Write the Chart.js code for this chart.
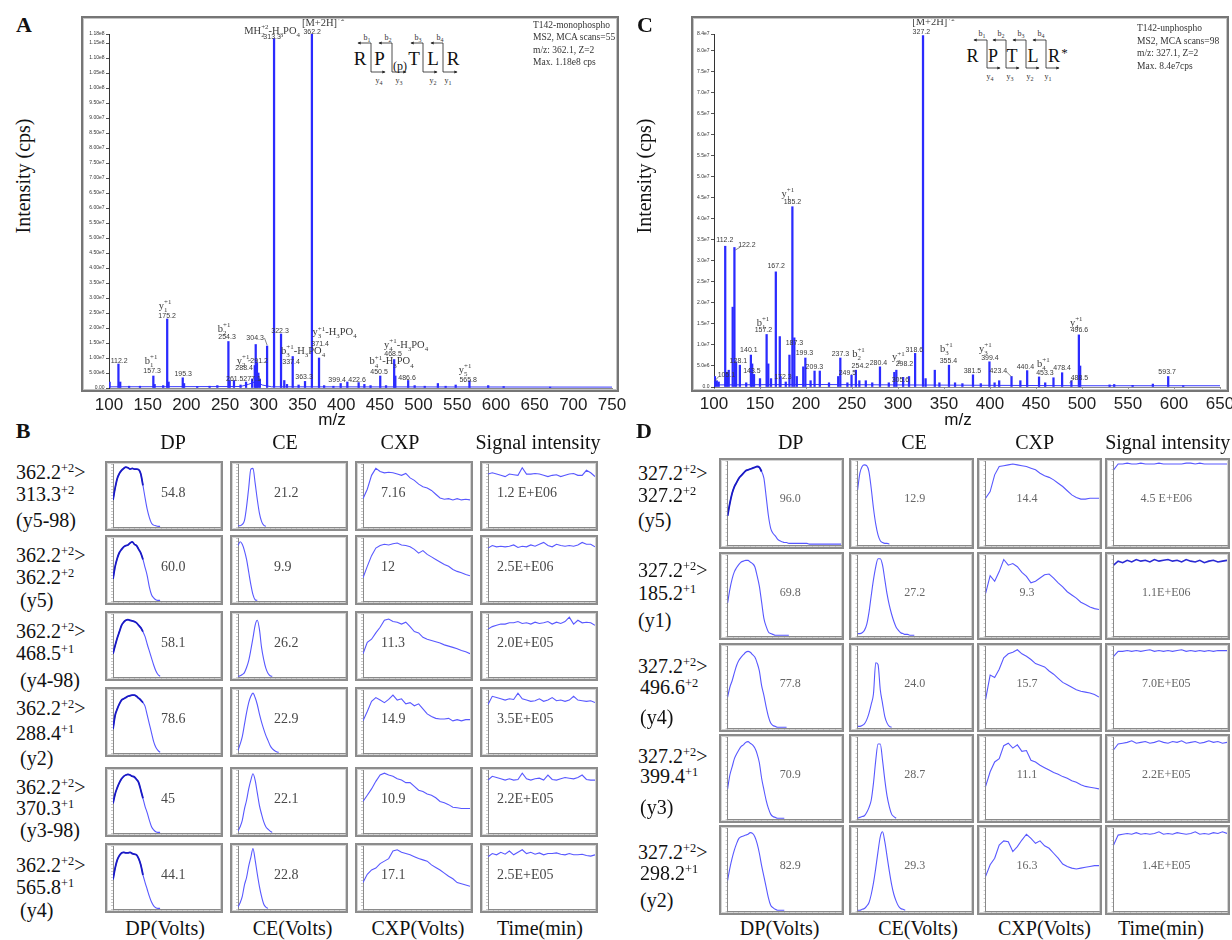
<!DOCTYPE html>
<html><head><meta charset="utf-8">
<script src="https://cdn.jsdelivr.net/npm/chart.js@4.4.1/dist/chart.umd.min.js"></script>
<style>
body{margin:0;width:1232px;height:940px;position:relative;background:#fff;overflow:hidden;font-family:"Liberation Serif","Times New Roman",serif;color:#111}
.abs{position:absolute}
.frame{position:absolute;box-sizing:border-box;border:2px solid #767676;box-shadow:inset 0 0 0 1px #c4c4c4;pointer-events:none}
.box{position:absolute;box-sizing:border-box;border:2px solid #8c8c8c;box-shadow:inset 0 0 0 1px #d4d4d4;background:#fff}
.box canvas{position:absolute;left:0;top:0}
.t{position:absolute;white-space:nowrap;line-height:1}
sup{font-size:62%;vertical-align:0.6em;line-height:0}
</style></head><body>
<svg class="abs" style="left:0;top:0" width="1232" height="100">
<defs><marker id="ah" viewBox="0 0 6 6" refX="5" refY="3" markerWidth="4" markerHeight="4" orient="auto-start-reverse"><path d="M0,0 L6,3 L0,6 z" fill="#222"/></marker></defs>
<g font-family="Liberation Serif" fill="#111" text-anchor="middle">
<text x="360" y="64.5" font-size="19">R</text><text x="379.5" y="64.5" font-size="19">P</text>
<text x="400" y="70" font-size="12">(p)</text>
<text x="414" y="64.5" font-size="19">T</text><text x="433" y="64.5" font-size="19">L</text><text x="453" y="64.5" font-size="19">R</text>
<text x="972.5" y="61.5" font-size="18">R</text><text x="993" y="61.5" font-size="18">P</text><text x="1012" y="61.5" font-size="18">T</text><text x="1033" y="61.5" font-size="18">L</text><text x="1054" y="61.5" font-size="18">R</text><text x="1064.5" y="57" font-size="13">*</text>
</g>
<g stroke="#222" stroke-width="0.8" fill="none">
<path d="M358,43 L371,43 L371,72 L385,72" marker-start="url(#ah)" marker-end="url(#ah)"/>
<path d="M379,43 L392,43 L392,72 L406,72" marker-start="url(#ah)" marker-end="url(#ah)"/>
<path d="M411,43 L423,43 L423,72 L437,72" marker-start="url(#ah)" marker-end="url(#ah)"/>
<path d="M431,43 L443,43 L443,72 L457,72" marker-start="url(#ah)" marker-end="url(#ah)"/>
<path d="M974,40 L987,40 L987,68 L1000,68" marker-start="url(#ah)" marker-end="url(#ah)"/>
<path d="M993,40 L1006,40 L1006,68 L1019,68" marker-start="url(#ah)" marker-end="url(#ah)"/>
<path d="M1013,40 L1026,40 L1026,68 L1039,68" marker-start="url(#ah)" marker-end="url(#ah)"/>
<path d="M1033,40 L1046,40 L1046,68 L1059,68" marker-start="url(#ah)" marker-end="url(#ah)"/>
</g>
<g font-family="Liberation Serif" fill="#333" font-size="8" text-anchor="middle">
<text x="367" y="40">b<tspan font-size="6" dy="2">1</tspan></text>
<text x="388" y="40">b<tspan font-size="6" dy="2">2</tspan></text>
<text x="418" y="40">b<tspan font-size="6" dy="2">3</tspan></text>
<text x="440" y="40">b<tspan font-size="6" dy="2">4</tspan></text>
<text x="379" y="83">y<tspan font-size="6" dy="2">4</tspan></text>
<text x="399" y="83">y<tspan font-size="6" dy="2">3</tspan></text>
<text x="433" y="83">y<tspan font-size="6" dy="2">2</tspan></text>
<text x="448" y="83">y<tspan font-size="6" dy="2">1</tspan></text>
<text x="982" y="36">b<tspan font-size="6" dy="2">1</tspan></text>
<text x="1001" y="36">b<tspan font-size="6" dy="2">2</tspan></text>
<text x="1021" y="36">b<tspan font-size="6" dy="2">3</tspan></text>
<text x="1041" y="36">b<tspan font-size="6" dy="2">4</tspan></text>
<text x="990" y="79">y<tspan font-size="6" dy="2">4</tspan></text>
<text x="1010" y="79">y<tspan font-size="6" dy="2">3</tspan></text>
<text x="1030" y="79">y<tspan font-size="6" dy="2">2</tspan></text>
<text x="1048" y="79">y<tspan font-size="6" dy="2">1</tspan></text>
</g>
</svg>
<script>
// ================= DATA =================
// Spectrum A: [m/z, intensity (x1e6 cps)]
const peaksA = [[100.8,2.0],[112.2,8.0],[114.5,2.0],[126,0.6],[140,0.6],[157.3,4.0],[159,1.2],[170,0.8],[175.2,23.0],[177,2.0],[195.3,3.4],[197,1.5],[214,0.5],[230,0.6],[240,0.8],[254.3,15.5],[256,2.5],[261.5,2.5],[270,1.0],[277.1,2.0],[285,3.0],[288.4,7.5],[289.6,14.5],[291.2,8.5],[293,5.0],[295,3.0],[304.3,14.0],[313.3,116.5],[322.3,18.0],[326.5,2.5],[330,1.2],[337.4,10.5],[345,1.0],[353.3,2.2],[362.2,118],[371.4,10.0],[378,0.8],[390,0.6],[399.4,1.5],[408,2.0],[422.6,1.8],[430,1.2],[438,0.8],[450.5,4.0],[458,0.8],[468.5,9.5],[470,4.0],[486.6,2.5],[495,0.8],[508,0.6],[525,1.5],[535,0.6],[548,1.0],[565.8,2.4],[590,0.8],[610,0.5],[670,0.3]];
const baseA = [[100,0.4],[270,0.5],[280,1.2],[290,2.2],[298,1.0],[310,0.4],[750,0.3]];
// Spectrum C
const peaksC = [[101,2.5],[103,1.5],[105.1,1.2],[112.2,33.5],[114,3.5],[116,4.0],[120.3,19],[122.2,33.2],[124,6],[128.1,5.2],[135,1.0],[140.1,7.6],[141.5,5.5],[143.5,3.0],[150,2.0],[157.2,12.5],[159,5.5],[162,2],[167.2,27.4],[171.5,12],[172.3,2.5],[178,1.2],[182,7.6],[185.2,42.9],[187.3,11.7],[190,2.5],[197,4.8],[199.3,6.9],[205,1.5],[209.3,3.8],[215,3.8],[225,1.0],[235,2.5],[237.3,6.9],[245,1.0],[249.5,2.8],[254.2,4.0],[258,1.5],[265,1.5],[272,1.0],[280.4,4.8],[290,1.0],[296,3.5],[298.2,4.0],[305.6,2.3],[312,2.5],[318.6,8.0],[327.2,83.6],[330,2],[340,4.0],[345,1.0],[355.4,5.2],[362,1.0],[370,0.8],[381.5,2.9],[390,0.8],[399.4,6.0],[405,1.0],[410,1.5],[423.4,2.5],[433,1.5],[440.4,3.9],[453.3,2.4],[460,1.0],[469,2.2],[478.4,3.4],[488.5,1.5],[496.6,12.4],[498,5],[530,0.5],[535,0.6],[555,0.4],[577,0.7],[593.7,2.5],[610,0.3]];
const baseC = [[100,0.5],[200,0.6],[300,0.5],[400,0.4],[500,0.3],[650,0.3]];
const xTicksA = [100,150,200,250,300,350,400,450,500,550,600,650,700,750];
const xTicksC = [100,150,200,250,300,350,400,450,500,550,600,650];
const yTicksA = [0,5,10,15,20,25,30,35,40,45,50,55,60,65,70,75,80,85,90,95,100,105,110,115,118];
const yLabelsA = ["0.00","5.00e6","1.00e7","1.50e7","2.00e7","2.50e7","3.00e7","3.50e7","4.00e7","4.50e7","5.00e7","5.50e7","6.00e7","6.50e7","7.00e7","7.50e7","8.00e7","8.50e7","9.00e7","9.50e7","1.00e8","1.05e8","1.10e8","1.15e8","1.18e8"];
const yTicksC = [0,5,10,15,20,25,30,35,40,45,50,55,60,65,70,75,80,84];
const yLabelsC = ["0.0","5.0e6","1.0e7","1.5e7","2.0e7","2.5e7","3.0e7","3.5e7","4.0e7","4.5e7","5.0e7","5.5e7","6.0e7","6.5e7","7.0e7","7.5e7","8.0e7","8.4e7"];
// peak annotations: [m/z, intensity, text, kind]
const annA = [[310.8,119.3,'MH_{2}^{+2}-H_{3}PO_{4}','i'],[310.8,117,'313.3','v'],[376.7,122,'[M+2H]^{+2}','i'],[362.5,118.7,'362.2','v'],[113.1,9.3,'112.2','v'],[154.5,9.3,'b_{1}^{+1}','i'],[155.7,5.7,'157.3','v'],[172.5,27.7,'y_{1}^{+1}','i'],[175.1,24.3,'175.2','v'],[195.8,4.7,'195.3','v'],[248.8,20,'b_{2}^{+1}','i'],[252.6,17,'254.3','v'],[262.5,3.3,'261.5','v'],[284.9,3.0,'277.1','v'],[273.3,9.3,'y_{2}^{+1}','i'],[274.6,6.7,'288.4','v'],[294.0,9.3,'291.2','v'],[288.8,16.7,'304.3','v'],[321.0,19.3,'322.3','v'],[350.8,12.7,'b_{3}^{+1}-H_{3}PO_{4}','i'],[335.3,8.8,'337.4','v'],[352.1,3.8,'363.3','v'],[391.5,18.8,'y_{3}^{+1}-H_{3}PO_{4}','i'],[372.8,14.7,'371.4','v'],[394.8,2.7,'399.4','v'],[420.6,2.7,'422.6','v'],[465.2,9.1,'b_{4}^{+1}-H_{3}PO_{4}','i'],[449.0,5.4,'450.5','v'],[483.9,14.7,'y_{4}^{+1}-H_{3}PO_{4}','i'],[467.1,11.6,'468.5','v'],[485.2,3.6,'486.6','v'],[560.2,6.3,'y_{5}^{+1}','i'],[564.1,2.7,'565.8','v']];
const leadA = [[300.9,16.7,304.3,14.3],[279.5,9.0,283.5,9.3]];
const annC = [[338.5,86.9,'[M+2H]^{+2}','i'],[325.4,84.5,'327.2','v'],[111.8,35,'112.2','v'],[135.8,33.8,'122.2','v'],[126.5,6.4,'128.1','v'],[113.5,2.9,'105.1','v'],[137.9,8.8,'140.1','v'],[141.2,4.0,'143.5','v'],[153.2,15.5,'b_{1}^{+1}','i'],[153.7,13.7,'157.2','v'],[167.6,28.8,'167.2','v'],[174.9,2.6,'172.3','v'],[180.3,46.2,'y_{1}^{+1}','i'],[185.2,44.1,'185.2','v'],[187.4,10.5,'187.3','v'],[198.3,8.1,'199.3','v'],[209.1,4.8,'209.3','v'],[237.4,8.0,'237.3','v'],[245.0,3.4,'249.5','v'],[257.0,8.1,'b_{2}^{+1}','i'],[259.1,5.2,'254.2','v'],[278.7,5.8,'280.4','v'],[300.4,7.2,'y_{2}^{+1}','i'],[307.0,5.5,'298.2','v'],[302.6,1.8,'305.6','v'],[317.8,8.8,'318.6','v'],[352.6,9.2,'b_{3}^{+1}','i'],[354.8,6.4,'355.4','v'],[380.9,3.9,'381.5','v'],[395.0,9.2,'y_{3}^{+1}','i'],[399.9,7.1,'399.4','v'],[409.1,3.9,'423.4','v'],[438.5,4.8,'440.4','v'],[458.0,5.6,'b_{4}^{+1}','i'],[459.7,3.4,'453.3','v'],[478.4,4.7,'478.4','v'],[497.2,2.3,'488.5','v'],[493.7,15.5,'y_{4}^{+1}','i'],[497.2,13.6,'496.6','v'],[592.5,3.6,'593.7','v']];
const leadC = [[128.6,33.3,123.2,32.6],[104.8,2.4,100.6,1.4],[418,3.6,423.5,2.4],[490.8,1.9,486.4,1.0]];
const infoA = ["T142-monophospho","MS2, MCA scans=55","m/z: 362.1, Z=2","Max. 1.18e8 cps"];
const infoC = ["T142-unphospho","MS2, MCA scans=98","m/z: 327.1, Z=2","Max. 8.4e7cps"];

// Panel B (precursor 362.2, +2)
const bPrecursor = "362.2";
const bProducts = ["313.3","362.2","468.5","288.4","370.3","565.8"];
const bCharges = ["+2","+2","+1","+1","+1","+1"];
const bIons = ["(y5-98)","(y5)","(y4-98)","(y2)","(y3-98)","(y4)"];
const bDPopt = ["54.8","60.0","58.1","78.6","45","44.1"];
const bCEopt = ["21.2","9.9","26.2","22.9","22.1","22.8"];
const bCXPopt = ["7.16","12","11.3","14.9","10.9","17.1"];
const bSignal = ["1.2 E+E06","2.5E+E06","2.0E+E05","3.5E+E05","2.2E+E05","2.5E+E05"];
// curves (% of panel height); DP, CE sampled every 2% of width; CXP, signal every 4%
const bDP = [
 [43,62,77,85,90,93,95,94,92,93,92,92,91,84,66,46,28,15,6,3,2,1,1],
 [35,55,68,77,82,86,88,89,92,94,90,88,82,76,66,53,40,22,10,5,2,1,1],
 [37,50,62,72,82,87,90,91,90,89,88,86,82,78,72,64,52,41,30,19,10,4,1],
 [38,60,70,78,84,86,88,90,91,92,92,90,87,84,80,74,60,46,32,18,9,4,1],
 [47,62,72,80,86,90,92,93,92,90,89,85,80,68,55,42,32,20,10,5,2,1,1],
 [47,65,78,85,89,90,89,89,90,88,87,86,80,70,54,42,31,20,11,5,2,1,1]];
const bCE = [
 [2,2,4,10,32,62,92,93,70,44,22,9,3,1],
 [88,94,90,80,66,46,26,10,2,1],
 [1,2,4,7,15,26,43,62,82,90,76,47,28,14,6,2,1],
 [4,14,26,45,64,80,90,95,88,77,62,49,38,28,20,12,7,4,2,1],
 [3,10,20,38,52,70,84,94,84,64,44,30,18,10,6,3,1],
 [3,10,20,38,50,68,82,96,78,56,36,20,8,3,1]];
const bCXP = [
 [45,60,82,93,88,86,87,86,84,82,85,78,74,68,64,62,58,52,46,44,45,43,45,43,44,43],
 [37,55,72,84,88,90,89,91,92,89,88,86,82,76,80,74,70,66,62,58,55,50,47,45,42,40],
 [37,55,60,70,79,90,92,88,87,84,87,80,72,70,63,60,58,56,54,51,49,47,45,42,40,37],
 [51,66,82,88,84,80,85,92,84,86,78,80,75,78,70,62,58,55,54,54,55,51,53,51,53,53],
 [50,60,70,82,92,95,92,90,86,84,80,80,74,68,66,62,60,56,50,48,45,41,40,39,39,39],
 [42,55,62,65,72,76,80,92,94,90,88,86,83,80,78,76,70,66,62,57,52,48,42,40,38,36]];
const bSIG = [
 [84,86,84,82,80,84,83,82,94,84,84,85,84,82,80,82,83,80,82,84,85,82,82,90,86,80],
 [84,88,86,87,86,87,89,85,87,86,89,87,90,93,88,86,90,88,87,88,87,89,93,90,90,86],
 [76,80,82,84,84,86,86,88,85,86,84,87,85,86,88,84,87,85,88,95,84,90,86,87,86,82],
 [77,90,88,86,84,86,85,95,86,84,82,83,86,82,84,88,83,84,82,84,90,84,83,82,83,80],
 [84,90,88,86,84,86,84,85,95,86,84,86,87,84,92,85,84,86,88,87,86,88,92,85,84,84],
 [83,88,86,90,87,92,86,90,94,88,90,87,89,86,88,88,89,87,86,88,86,86,87,85,84,86]];

// Panel D (precursor 327.2, +2)
const dPrecursor = "327.2";
const dProducts = ["327.2","185.2","496.6","399.4","298.2"];
const dCharges = ["+2","+1","+2","+1","+1"];
const dIons = ["(y5)","(y1)","(y4)","(y3)","(y2)"];
const dDPopt = ["96.0","69.8","77.8","70.9","82.9"];
const dCEopt = ["12.9","27.2","24.0","28.7","29.3"];
const dCXPopt = ["14.4","9.3","15.7","11.1","16.3"];
const dSignal = ["4.5 E+E06","1.1E+E06","7.0E+E05","2.2E+E05","1.4E+E05"];
const dDP = [
 [35,50,62,70,75,80,83,86,89,90,91,92,93,94,93,88,80,58,35,20,14,11,7,5,4,3,3,2,2,2,2,2,2,2,2,2,1,1,1,1,1,1,1,1,1,1,1,1,1,1,1],
 [41,58,71,80,85,89,92,93,94,94,92,90,86,75,62,42,22,12,5,3,2,1,1,1,1,1,1,1],
 [38,50,58,68,77,83,87,90,93,94,93,90,87,80,70,52,40,26,14,6,3,2,1,1,1,1,1],
 [37,54,64,74,80,85,89,91,94,95,93,91,87,80,69,50,36,23,13,6,3,2,1,1,1,1],
 [37,52,64,74,82,88,90,91,92,93,95,94,90,82,70,55,42,29,16,7,4,2,1,1,1,1]];
const dCE = [
 [66,86,94,96,95,88,68,44,25,12,5,3,2,2,1],
 [3,3,4,7,14,29,50,70,86,96,96,88,70,52,38,27,18,11,7,4,3,2,2,1,1,1],
 [2,2,3,5,10,18,29,42,80,78,47,30,14,6,2,1],
 [1,2,3,4,8,14,23,44,72,92,92,72,48,28,15,6,3,1],
 [1,1,2,3,6,10,20,34,52,72,90,96,84,66,48,32,20,12,6,3,2,1]];
const dCXP = [
 [56,64,84,94,95,96,97,96,95,94,92,90,86,83,81,78,74,70,65,60,57,55,55,56,56,56],
 [53,75,68,80,95,88,90,86,79,74,66,68,72,76,77,72,66,61,55,51,47,42,39,36,34,33],
 [35,65,62,72,86,91,93,96,91,88,84,79,77,75,70,66,61,56,53,50,47,45,44,43,41,38],
 [40,58,70,74,90,93,87,91,83,84,72,70,66,63,60,57,55,52,50,47,45,42,40,39,38,37],
 [42,56,64,80,85,84,72,78,86,93,88,82,85,79,76,70,64,57,54,52,51,52,53,54,55,55]];
const dSIG = [
 [90,97,97,98,97,97,98,97,97,97,98,97,97,97,97,97,98,98,97,98,97,97,97,97,97,97],
 [88,93,91,94,92,95,93,94,92,95,93,94,95,93,94,92,95,93,92,94,91,93,94,92,93,94],
 [88,94,94,95,94,95,94,95,96,94,95,94,95,94,95,96,94,95,94,95,94,95,94,95,95,95],
 [85,92,93,94,96,93,94,95,93,94,96,94,93,95,94,96,93,94,95,93,94,96,94,95,93,94],
 [80,92,93,94,93,95,93,94,93,94,96,93,94,93,95,94,93,94,96,93,94,93,95,94,96,94]];
const colHeads = ["DP","CE","CXP","Signal intensity"];
const colFoots = ["DP(Volts)","CE(Volts)","CXP(Volts)","Time(min)"];

// ================= HELPERS =================
Chart.defaults.font.family = '"Liberation Sans", Arial, sans-serif';
function txt(x, y, html, css, center){
  const d = document.createElement('div'); d.className='t'; d.innerHTML = html;
  d.style.left = x+'px'; d.style.top = y+'px';
  d.style.transform = center ? 'translate(-50%,-50%)' : 'translate(0,-50%)';
  if (css) d.style.cssText += css;
  document.body.appendChild(d); return d;
}
function richParts(s){
  const out=[]; s.split(/(_\{[^}]*\}|\^\{[^}]*\})/).forEach(p=>{ if(!p) return;
    if(p.startsWith('_{')) out.push({t:p.slice(2,-1),m:'sub'});
    else if(p.startsWith('^{')) out.push({t:p.slice(2,-1),m:'sup'});
    else out.push({t:p,m:'n'}); });
  return out;
}
function drawRich(ctx, s, cx, cy, size, fam, color){
  const parts = richParts(s), sm = size*0.66, items=[]; let x=0;
  for(let i=0;i<parts.length;i++){
    const p=parts[i]; ctx.font=(p.m==='n'?size:sm)+'px '+fam; const w=ctx.measureText(p.t).width;
    if(p.m==='sub' && parts[i+1] && parts[i+1].m==='sup'){
      const q=parts[i+1]; ctx.font=sm+'px '+fam; const w2=ctx.measureText(q.t).width;
      items.push({t:p.t,m:'sub',x}); items.push({t:q.t,m:'sup',x}); x+=Math.max(w,w2); i++; continue;
    }
    items.push({t:p.t,m:p.m,x}); x+=w;
  }
  const x0=cx-x/2, base=cy+size*0.35;
  ctx.fillStyle=color; ctx.textAlign='left'; ctx.textBaseline='alphabetic';
  items.forEach(it=>{ ctx.font=(it.m==='n'?size:sm)+'px '+fam;
    const dy = it.m==='sub'? size*0.3 : it.m==='sup'? -size*0.45 : 0;
    ctx.fillText(it.t, x0+it.x, base+dy); });
}
function annotPlugin(labels, leaders){
  return {id:'annot', afterDraw(chart){
    const {ctx, scales:{x,y}} = chart; ctx.save();
    ctx.strokeStyle='#555'; ctx.lineWidth=0.7;
    leaders.forEach(l=>{ ctx.beginPath(); ctx.moveTo(x.getPixelForValue(l[0]),y.getPixelForValue(l[1])); ctx.lineTo(x.getPixelForValue(l[2]),y.getPixelForValue(l[3])); ctx.stroke(); });
    labels.forEach(([m,I,t,k])=>{ const px=x.getPixelForValue(m), py=y.getPixelForValue(I);
      if(k==='v') drawRich(ctx,t,px,py,7,'"Liberation Sans"','#3a3a3a');
      else drawRich(ctx,t,px,py,10.5,'"Liberation Serif"','#3a3a3a'); });
    ctx.restore(); }};
}
function spectrum(g, peaks, base, xmin, xmax, xTicks, ymax, yTicks, yLabels, ann, lead){
  const cv=document.createElement('canvas'); cv.width=g.w; cv.height=g.h; cv.className='abs';
  cv.style.left=g.left+'px'; cv.style.top=g.top+'px'; document.body.appendChild(cv);
  new Chart(cv,{type:'bar',
    data:{datasets:[
      {type:'bar', data:peaks.map(p=>({x:p[0],y:p[1]})), backgroundColor:'#2b2bff', barThickness:1.6, order:1},
      {type:'line', data:base.map(p=>({x:p[0],y:p[1]})), borderColor:'#3a3aff', borderWidth:1, pointRadius:0, order:2}]},
    options:{responsive:false, animation:false, events:[],
      layout:{padding:{left:0, top:g.pt, right:g.pr, bottom:0}},
      plugins:{legend:{display:false}, tooltip:{enabled:false}},
      scales:{
        x:{type:'linear', min:xmin, max:xmax, offset:false,
           afterBuildTicks(s){ s.ticks = xTicks.map(v=>({value:v})); },
           afterFit(s){ s.height=g.xh; s.paddingLeft=0; s.paddingRight=0; },
           ticks:{font:{size:17, family:'"Liberation Sans"'}, color:'#222', padding:4, maxRotation:0, autoSkip:false},
           grid:{drawOnChartArea:false, tickLength:3, color:'#9a9a9a', offset:false}, border:{color:'#8a8a8a'}},
        y:{min:0, max:ymax,
           afterBuildTicks(s){ s.ticks = yTicks.map(v=>({value:v})); },
           afterFit(s){ s.width=g.yw; s.paddingTop=0; s.paddingBottom=0; },
           ticks:{font:{size:5, family:'"Liberation Sans"'}, color:'#333', padding:1.5, autoSkip:false, callback:(v,i)=>yLabels[i]},
           grid:{drawOnChartArea:false, tickLength:3, color:'#555'}, border:{color:'#333'}}
      }},
    plugins:[annotPlugin(ann, lead)]});
  const f=document.createElement('div'); f.className='frame';
  Object.assign(f.style,{left:g.fx+'px',top:g.fy+'px',width:g.fw+'px',height:g.fh+'px'});
  document.body.appendChild(f);
}
function panel(x, y, w, h, vals, step, smooth, dark, yw, pt, color, lw){
  const box=document.createElement('div'); box.className='box';
  Object.assign(box.style,{left:x+'px',top:y+'px',width:w+'px',height:h+'px'});
  const cv=document.createElement('canvas'); cv.width=Math.round(w-4); cv.height=Math.round(h-4);
  box.appendChild(cv); document.body.appendChild(box);
  const pts=vals.map((v,i)=>({x:i*step,y:v}));
  const ds=[{data:pts, borderColor:color||'rgb(88,88,255)', borderWidth:lw||1.1, pointRadius:0, tension:0, cubicInterpolationMode: smooth?'monotone':'default'}];
  if(dark) ds.unshift({data:pts.slice(0,dark), borderColor:'#1a1ac4', borderWidth:1.8, pointRadius:0, cubicInterpolationMode:'monotone'});
  const grid={drawOnChartArea:false, tickLength:2, color:'#b4b4b4', lineWidth:0.7};
  new Chart(cv,{type:'line', data:{datasets:ds},
    options:{responsive:false, animation:false, events:[],
      layout:{padding:{left:0,top:pt,right:1,bottom:0}},
      plugins:{legend:{display:false}, tooltip:{enabled:false}},
      scales:{
        x:{type:'linear',min:0,max:100, afterFit(s){s.height=2; s.paddingLeft=0; s.paddingRight=0;}, ticks:{display:false,stepSize:5}, grid, border:{color:'#8a8a8a'}},
        y:{min:0,max:100, afterFit(s){s.width=yw; s.paddingTop=0; s.paddingBottom=0;}, ticks:{display:false,stepSize:5}, grid, border:{color:'#8a8a8a'}}
      }}});
}

// ================= SPECTRA =================
spectrum({left:81, top:16, w:560, h:420, pt:18, pr:29, xh:48, yw:28, fx:81, fy:16, fw:538, fh:376},
  peaksA, baseA, 100, 750, xTicksA, 118, yTicksA, yLabelsA, annA, leadA);
spectrum({left:691, top:16, w:560, h:420, pt:18, pr:31, xh:49, yw:23, fx:691, fy:16, fw:538, fh:376},
  peaksC, baseC, 100, 650, xTicksC, 84, yTicksC, yLabelsC, annC, leadC);
infoA.forEach((s,i)=>txt(533, 26+i*12.3, s, 'font-size:9.5px;color:#333'));
infoC.forEach((s,i)=>txt(1137, 29+i*12.5, s, 'font-size:9.5px;color:#333'));
txt(24, 25, 'A', 'font-size:22px;font-weight:bold', true);
txt(645, 25, 'C', 'font-size:22px;font-weight:bold', true);
txt(23, 176, 'Intensity (cps)', 'font-size:20px;transform:translate(-50%,-50%) rotate(-90deg)');
txt(644, 176, 'Intensity (cps)', 'font-size:20px;transform:translate(-50%,-50%) rotate(-90deg)');
txt(332, 419, 'm/z', 'font-family:"Liberation Sans";font-size:17px', true);
txt(958, 419, 'm/z', 'font-family:"Liberation Sans";font-size:17px', true);

// ================= PANEL B =================
txt(23, 431, 'B', 'font-size:22px;font-weight:bold', true);
const bColX=[104.5,229.7,354.5,479.7], bRowY=[461,535,611,687,767,843], bW=118, bH=70;
const bHeadX=[173,285,400,538], bFootX=[165,292.6,418,540];
colHeads.forEach((s,i)=>txt(bHeadX[i],441.7,s,'font-size:20px',true));
colFoots.forEach((s,i)=>txt(bFootX[i],928,s,'font-size:20px',true));
const bLabY=[[472,494,520],[555,577,600],[631,653,680],[708,733,758],[787,808,830],[865,887,910]];
const bValDX=[56.5,44.3,26.5,17.3];
for(let r=0;r<6;r++){
  txt(16,bLabY[r][0],bPrecursor+'<sup>+2</sup>&gt;','font-size:20px');
  txt(16,bLabY[r][1],bProducts[r]+'<sup>'+bCharges[r]+'</sup>','font-size:20px');
  txt(r===0?16:20,bLabY[r][2],bIons[r],'font-size:20px');
  const y=bRowY[r];
  panel(bColX[0],y,bW,bH,bDP[r],2,true,15,6,1);
  panel(bColX[1],y,bW,bH,bCE[r],2,true,0,6,1);
  panel(bColX[2],y,bW,bH,bCXP[r],4,false,0,6,1);
  panel(bColX[3],y,bW,bH,bSIG[r],4,false,0,6,1);
  [bDPopt[r],bCEopt[r],bCXPopt[r],bSignal[r]].forEach((s,c)=>txt(bColX[c]+bValDX[c], y+32, s, 'font-size:14px;color:#484848'));
}

// ================= PANEL D =================
txt(644, 431, 'D', 'font-size:22px;font-weight:bold', true);
const dColX=[719.3,848.7,977,1105.3], dRowY=[458,552,643,734,825], dRowH=[91,88,89,89,90], dW=125;
const dHeadX=[790.7,914,1034.7,1167.7], dFootX=[779.7,918,1044.5,1161];
colHeads.forEach((s,i)=>txt(dHeadX[i],441.7,s,'font-size:20px',true));
colFoots.forEach((s,i)=>txt(dFootX[i],928,s,'font-size:20px',true));
const dLabY=[[473,495,520],[570,593,620],[666,687,717],[756,776,807],[852,873,900]];
const dValDX=[71,66,50,61];
for(let r=0;r<5;r++){
  txt(638,dLabY[r][0],dPrecursor+'<sup>+2</sup>&gt;','font-size:20px');
  txt(r>=2?640:638,dLabY[r][1],dProducts[r]+'<sup>'+dCharges[r]+'</sup>','font-size:20px');
  txt(r>=2?640:638,dLabY[r][2],dIons[r],'font-size:20px');
  const y=dRowY[r], h=dRowH[r];
  panel(dColX[0],y,dW,h,dDP[r],2,true,r===0?16:0,6.6,1.5);
  panel(dColX[1],y,dW,h,dCE[r],2,true,0,6.6,1.5);
  panel(dColX[2],y,dW,h,dCXP[r],4,false,0,6.6,1.5);
  panel(dColX[3],y,dW,h,dSIG[r],4,false,0,6.6,1.5, r===1?'#2a2ad4':null, r===1?1.6:null);
  [dDPopt[r],dCEopt[r],dCXPopt[r],dSignal[r]].forEach((s,c)=>txt(dColX[c]+dValDX[c], y+40, s, 'font-size:12px;color:#666', true));
}
</script>
</body></html>
